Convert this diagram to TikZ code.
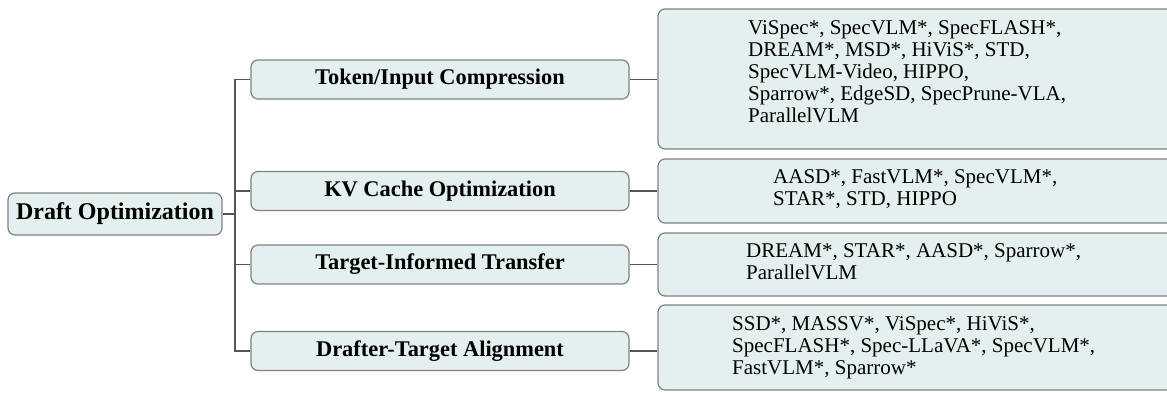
\documentclass[tikz,border=0pt]{standalone}
\usepackage{fontspec}
\setmainfont{Liberation Serif}
\definecolor{boxfill}{RGB}{228,240,240}
\definecolor{boxdraw}{RGB}{128,128,128}
\definecolor{linec}{RGB}{85,85,85}
\newcommand{\leaflines}[1]{\begin{tabular}[t]{@{}l@{}}#1\end{tabular}}
\begin{document}
\begin{tikzpicture}[x=1pt,y=-1pt,
  box/.style={draw=boxdraw, fill=boxfill, line width=1.2pt, rounded corners=7pt, inner sep=0pt},
  rootlab/.style={font=\fontsize{24}{26}\selectfont\bfseries},
  lab/.style={font=\fontsize{22.4}{24}\selectfont\bfseries},
  leaftext/.style={font=\fontsize{21}{22}\selectfont, anchor=base west, inner sep=0pt},
  conn/.style={draw=linec, line width=1.6pt}]
\useasboundingbox (0,0) rectangle (1167,392);
\clip (0,0) rectangle (1167,392);
% root
\node[box, rootlab, minimum width=214pt, minimum height=42pt] (root) at (115,214) {Draft Optimization};
% level 1
\node[box, lab, minimum width=378pt, minimum height=39pt] (c1) at (440,79.5) {Token/Input Compression};
\node[box, lab, minimum width=378pt, minimum height=39pt] (c2) at (440,191) {KV Cache Optimization};
\node[box, lab, minimum width=378pt, minimum height=39pt] (c3) at (440,264.5) {Target-Informed Transfer};
\node[box, lab, minimum width=378pt, minimum height=39pt] (c4) at (440,351) {Drafter-Target Alignment};
% leaves
\node[box, minimum width=560pt, minimum height=140pt] (l1) at (938,79) {};
\node[box, minimum width=560pt, minimum height=64pt] (l2) at (938,191) {};
\node[box, minimum width=560pt, minimum height=63pt] (l3) at (938,264.5) {};
\node[box, minimum width=560pt, minimum height=85pt] (l4) at (938,347.5) {};
\node[leaftext] (t1) at (748,34) {\leaflines{ViSpec*, SpecVLM*, SpecFLASH*,\\DREAM*, MSD*, HiViS*, STD,\\SpecVLM-Video, HIPPO,\\Sparrow*, EdgeSD, SpecPrune-VLA,\\ParallelVLM}};
\node[leaftext] (t2) at (773,183.5) {\leaflines{AASD*, FastVLM*, SpecVLM*,\\STAR*, STD, HIPPO}};
\node[leaftext] (t3) at (746,257.5) {\leaflines{DREAM*, STAR*, AASD*, Sparrow*,\\ParallelVLM}};
\node[leaftext] (t4) at (732,330) {\leaflines{SSD*, MASSV*, ViSpec*, HiViS*,\\SpecFLASH*, Spec-LLaVA*, SpecVLM*,\\FastVLM*, Sparrow*}};
% connectors
\coordinate (trunk) at (235,214);
\draw[conn] (root.east) -- (trunk);
\draw[conn] (trunk) |- (c1.west);
\draw[conn] (trunk) |- (c2.west);
\draw[conn] (trunk) |- (c3.west);
\draw[conn] (trunk) |- (c4.west);
\draw[conn] (c1.east) -- (c1.east -| l1.west);
\draw[conn] (c2.east) -- (c2.east -| l2.west);
\draw[conn] (c3.east) -- (c3.east -| l3.west);
\draw[conn] (c4.east) -- (c4.east -| l4.west);
\end{tikzpicture}
\end{document}
